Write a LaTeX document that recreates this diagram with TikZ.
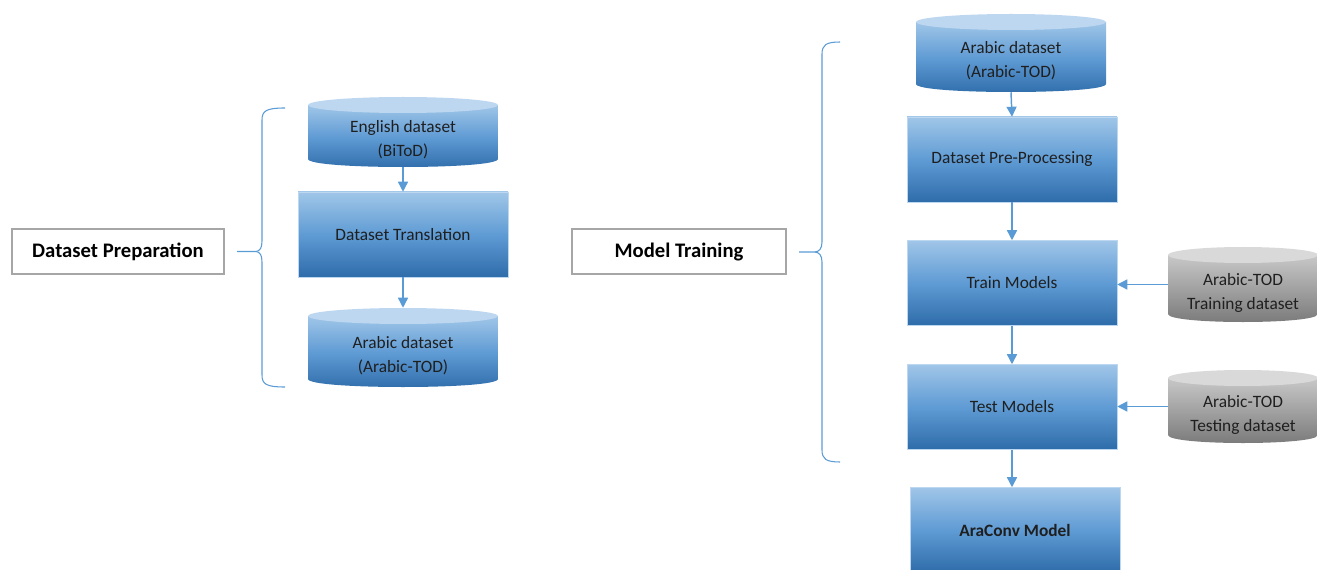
\documentclass[tikz,border=0pt]{standalone}
\usepackage{fontspec}
\setmainfont{Carlito}
\usetikzlibrary{arrows.meta}
\definecolor{bxTop}{RGB}{160,198,232}
\definecolor{bxMid}{RGB}{95,155,212}
\definecolor{bxBot}{RGB}{46,108,170}
\definecolor{cyTop}{RGB}{190,215,240}
\definecolor{gyTopE}{RGB}{217,217,217}
\definecolor{gyTop}{RGB}{200,200,200}
\definecolor{gyBot}{RGB}{120,120,120}
\definecolor{arr}{RGB}{91,155,213}
\definecolor{lbl}{RGB}{166,166,166}
\tikzset{
 procbox/.style={rectangle, top color=bxTop, bottom color=bxBot, middle color=bxMid, draw=cyTop, line width=0.4pt, minimum width=157.5pt, minimum height=63.75pt, inner sep=0pt, font=\fontsize{13}{15}\selectfont, text=black!88},
 labelbox/.style={rectangle, fill=white, draw=lbl, line width=1.5pt, minimum height=33.75pt, inner sep=0pt, font=\fontsize{15.5}{18}\selectfont\bfseries},
 flow/.style={draw=arr, line width=1.1pt, -{Triangle[length=7.5pt,width=7.5pt]}},
 bracepath/.style={draw=arr, line width=0.8pt},
 cylbodyblue/.style={top color=bxTop, bottom color=bxBot, middle color=bxMid},
 cyltopblue/.style={fill=cyTop},
 cylbodygray/.style={top color=gyTop, bottom color=gyBot},
 cyltopgray/.style={fill=gyTopE},
 cyltext/.style={font=\fontsize{13}{18}\selectfont, align=center, inner sep=0pt, text=black!88},
}
\newcommand\dbcyl[7]{%
  \shade[cylbody#6] (#2-#5,#3+8) -- (#2-#5,#4-8) .. controls (#2-#5,#4+2.67) and (#2+#5,#4+2.67) .. (#2+#5,#4-8) -- (#2+#5,#3+8) -- cycle;
  \fill[cyltop#6] (#2,#3+8) ellipse [x radius={#5*0.75pt}, y radius=6pt];
  \node[inner sep=0pt, minimum width={2*#5*0.75pt}, minimum height={(#4-#3)*0.75pt}] (#1) at (#2,{(#3+#4)/2}) {};
  \node[cyltext] (#1-t) at (#2,{(#3+#4)/2+8}) {#7};
}
\begin{document}
\begin{tikzpicture}[x=0.75pt,y=-0.75pt]
\useasboundingbox (0,0) rectangle (1317,570);
\clip (0,0) rectangle (1317,570);
% left part
\node[labelbox, minimum width=159pt] (dprep) at (118,251.5) {Dataset Preparation};
\dbcyl{eng}{403}{97}{167}{95}{blue}{English dataset\\(BiToD)}
\node[procbox] (trans) at (403,234.5) {Dataset Translation};
\dbcyl{arab1}{403}{308}{387}{95}{blue}{Arabic dataset\\(Arabic-TOD)}
\draw[flow] (eng.south) -- (trans.north);
\draw[flow] (trans.south) -- (arab1.north);
\draw[bracepath] ([xshift=9pt]dprep.east) -- (256,251.5)
  .. controls (260,251) and (262,248) .. (262,241) -- (262,120)
  .. controls (262,111) and (266,108) .. (285,108);
\draw[bracepath] (256,251.5)
  .. controls (260,252) and (262,255) .. (262,262) -- (262,375)
  .. controls (262,384) and (266,387) .. (285,387);
% right part
\node[labelbox, minimum width=160.5pt] (mtrain) at (679,252) {Model Training};
\dbcyl{arab2}{1011}{14}{92}{95}{blue}{Arabic dataset\\(Arabic-TOD)}
\node[procbox] (pre) at (1012,159.5) {Dataset Pre-Processing};
\node[procbox] (train) at (1012,283) {Train Models};
\node[procbox] (test) at (1012,407) {Test Models};
\node[procbox, font=\fontsize{13}{15}\selectfont\bfseries] (ara) at (1015,530) {AraConv Model};
\dbcyl{gtrain}{1243}{247}{322}{75}{gray}{Arabic-TOD\\Training dataset}
\dbcyl{gtest}{1243}{370}{443}{75}{gray}{Arabic-TOD\\Testing dataset}
\draw[flow] (arab2.south) -- (pre.north);
\draw[flow] (pre.south) -- (train.north);
\draw[flow] (train.south) -- (test.north);
\draw[flow] (test.south) -- (test.south |- ara.north);
\draw[flow] (gtrain.west) -- (gtrain.west -| train.east);
\draw[flow] (gtest.west) -- (gtest.west -| test.east);
\draw[bracepath] ([xshift=9pt]mtrain.east) -- (815,252)
  .. controls (819,251.5) and (822,249) .. (822,242) -- (822,54)
  .. controls (822,45) and (826,42) .. (840,42);
\draw[bracepath] (815,252)
  .. controls (819,252.5) and (822,255) .. (822,262) -- (822,450)
  .. controls (822,459) and (826,462) .. (840,462);
\end{tikzpicture}
\end{document}
